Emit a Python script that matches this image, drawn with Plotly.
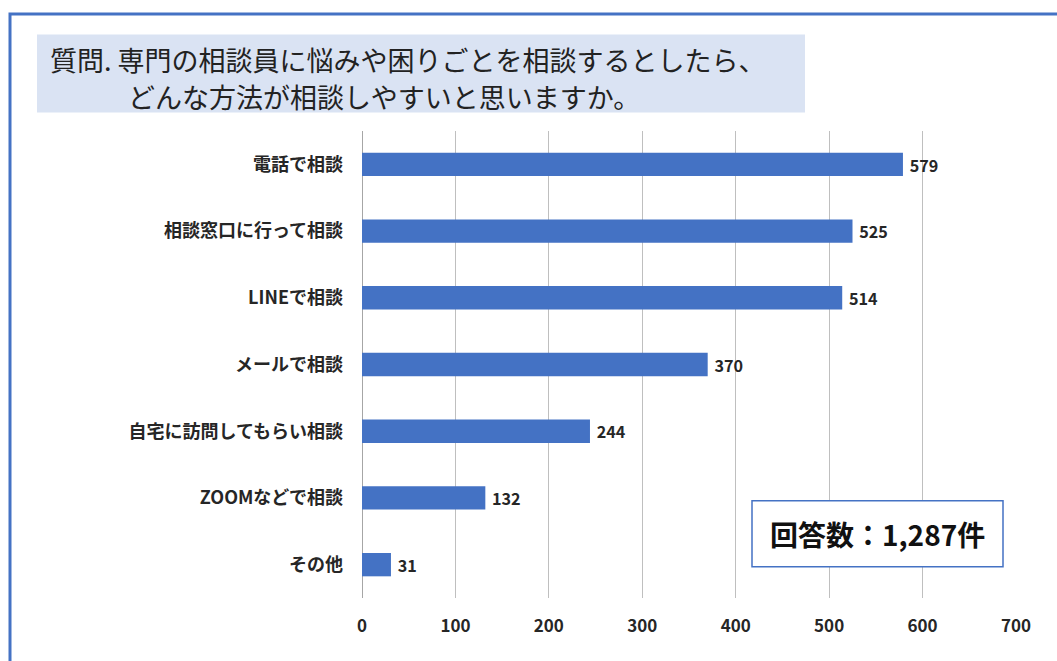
import plotly.graph_objects as go

categories = ["電話で相談", "相談窓口に行って相談", "LINEで相談", "メールで相談",
              "自宅に訪問してもらい相談", "ZOOMなどで相談", "その他"]
values = [579, 525, 514, 370, 244, 132, 31]
x_ticks = [0, 100, 200, 300, 400, 500, 600, 700]
title_line1 = "質問. 専門の相談員に悩みや困りごとを相談するとしたら、"
title_line2 = "どんな方法が相談しやすいと思いますか。"
count_text = "回答数：1,287件"

W, H = 1057, 661
L, R, T, B = 362, 1016, 130.6, 598.4
FONT = "Noto Sans CJK JP, Noto Sans, sans-serif"
BLUE = "#4472C4"


def px(x):
    return (x - L) / (R - L)


def py(y):
    return (B - y) / (B - T)


fig = go.Figure(go.Bar(
    x=values, y=categories, orientation="h",
    marker=dict(color=BLUE, line=dict(width=0)),
    text=values, texttemplate=" %{x}", textposition="outside", cliponaxis=False,
    textfont=dict(family=FONT, size=18, color="#262626", weight="bold"),
    width=0.35,
))

shapes = [
    # outer blue frame
    dict(type="rect", xref="paper", yref="paper",
         x0=px(10), x1=px(1070), y0=py(680), y1=py(13.5),
         line=dict(color=BLUE, width=3), fillcolor="rgba(0,0,0,0)", layer="below"),
    # title background
    dict(type="rect", xref="paper", yref="paper",
         x0=px(37), x1=px(805), y0=py(112), y1=py(34),
         line=dict(width=0), fillcolor="#dae3f3", layer="below"),
    # count box
    dict(type="rect", xref="paper", yref="paper",
         x0=px(752), x1=px(1003), y0=py(567), y1=py(501),
         line=dict(color=BLUE, width=1.5), fillcolor="white", layer="above"),
]

annotations = [
    dict(text=title_line1, xref="paper", yref="paper", x=px(48), y=py(59),
         xanchor="left", yanchor="middle", showarrow=False,
         font=dict(family=FONT, size=27, color="#222222")),
    dict(text=title_line2, xref="paper", yref="paper", x=px(126), y=py(96),
         xanchor="left", yanchor="middle", showarrow=False,
         font=dict(family=FONT, size=27, color="#222222")),
    dict(text=count_text, xref="paper", yref="paper", x=px(877.5), y=py(534),
         xanchor="center", yanchor="middle", showarrow=False,
         font=dict(family=FONT, size=28, color="#111111", weight="bold")),
]

fig.update_layout(
    width=W, height=H,
    margin=dict(l=L, r=W - R, t=T, b=H - B),
    paper_bgcolor="white", plot_bgcolor="white",
    showlegend=False, bargap=0.65,
    shapes=shapes, annotations=annotations,
    xaxis=dict(range=[0, 700], tickvals=x_ticks, showgrid=True,
               gridcolor="#bfbfbf", gridwidth=1.2, zeroline=True,
               zerolinecolor="#a6a6a6", zerolinewidth=1.2, showline=False,
               ticks="", ticklabelstandoff=16,
               tickfont=dict(family=FONT, size=17, color="#262626", weight="bold")),
    yaxis=dict(autorange="reversed", showgrid=False, showline=False, ticks="",
               ticklabelstandoff=18,
               tickfont=dict(family=FONT, size=18, color="#262626", weight="bold")),
)

fig.write_html("out.html")
